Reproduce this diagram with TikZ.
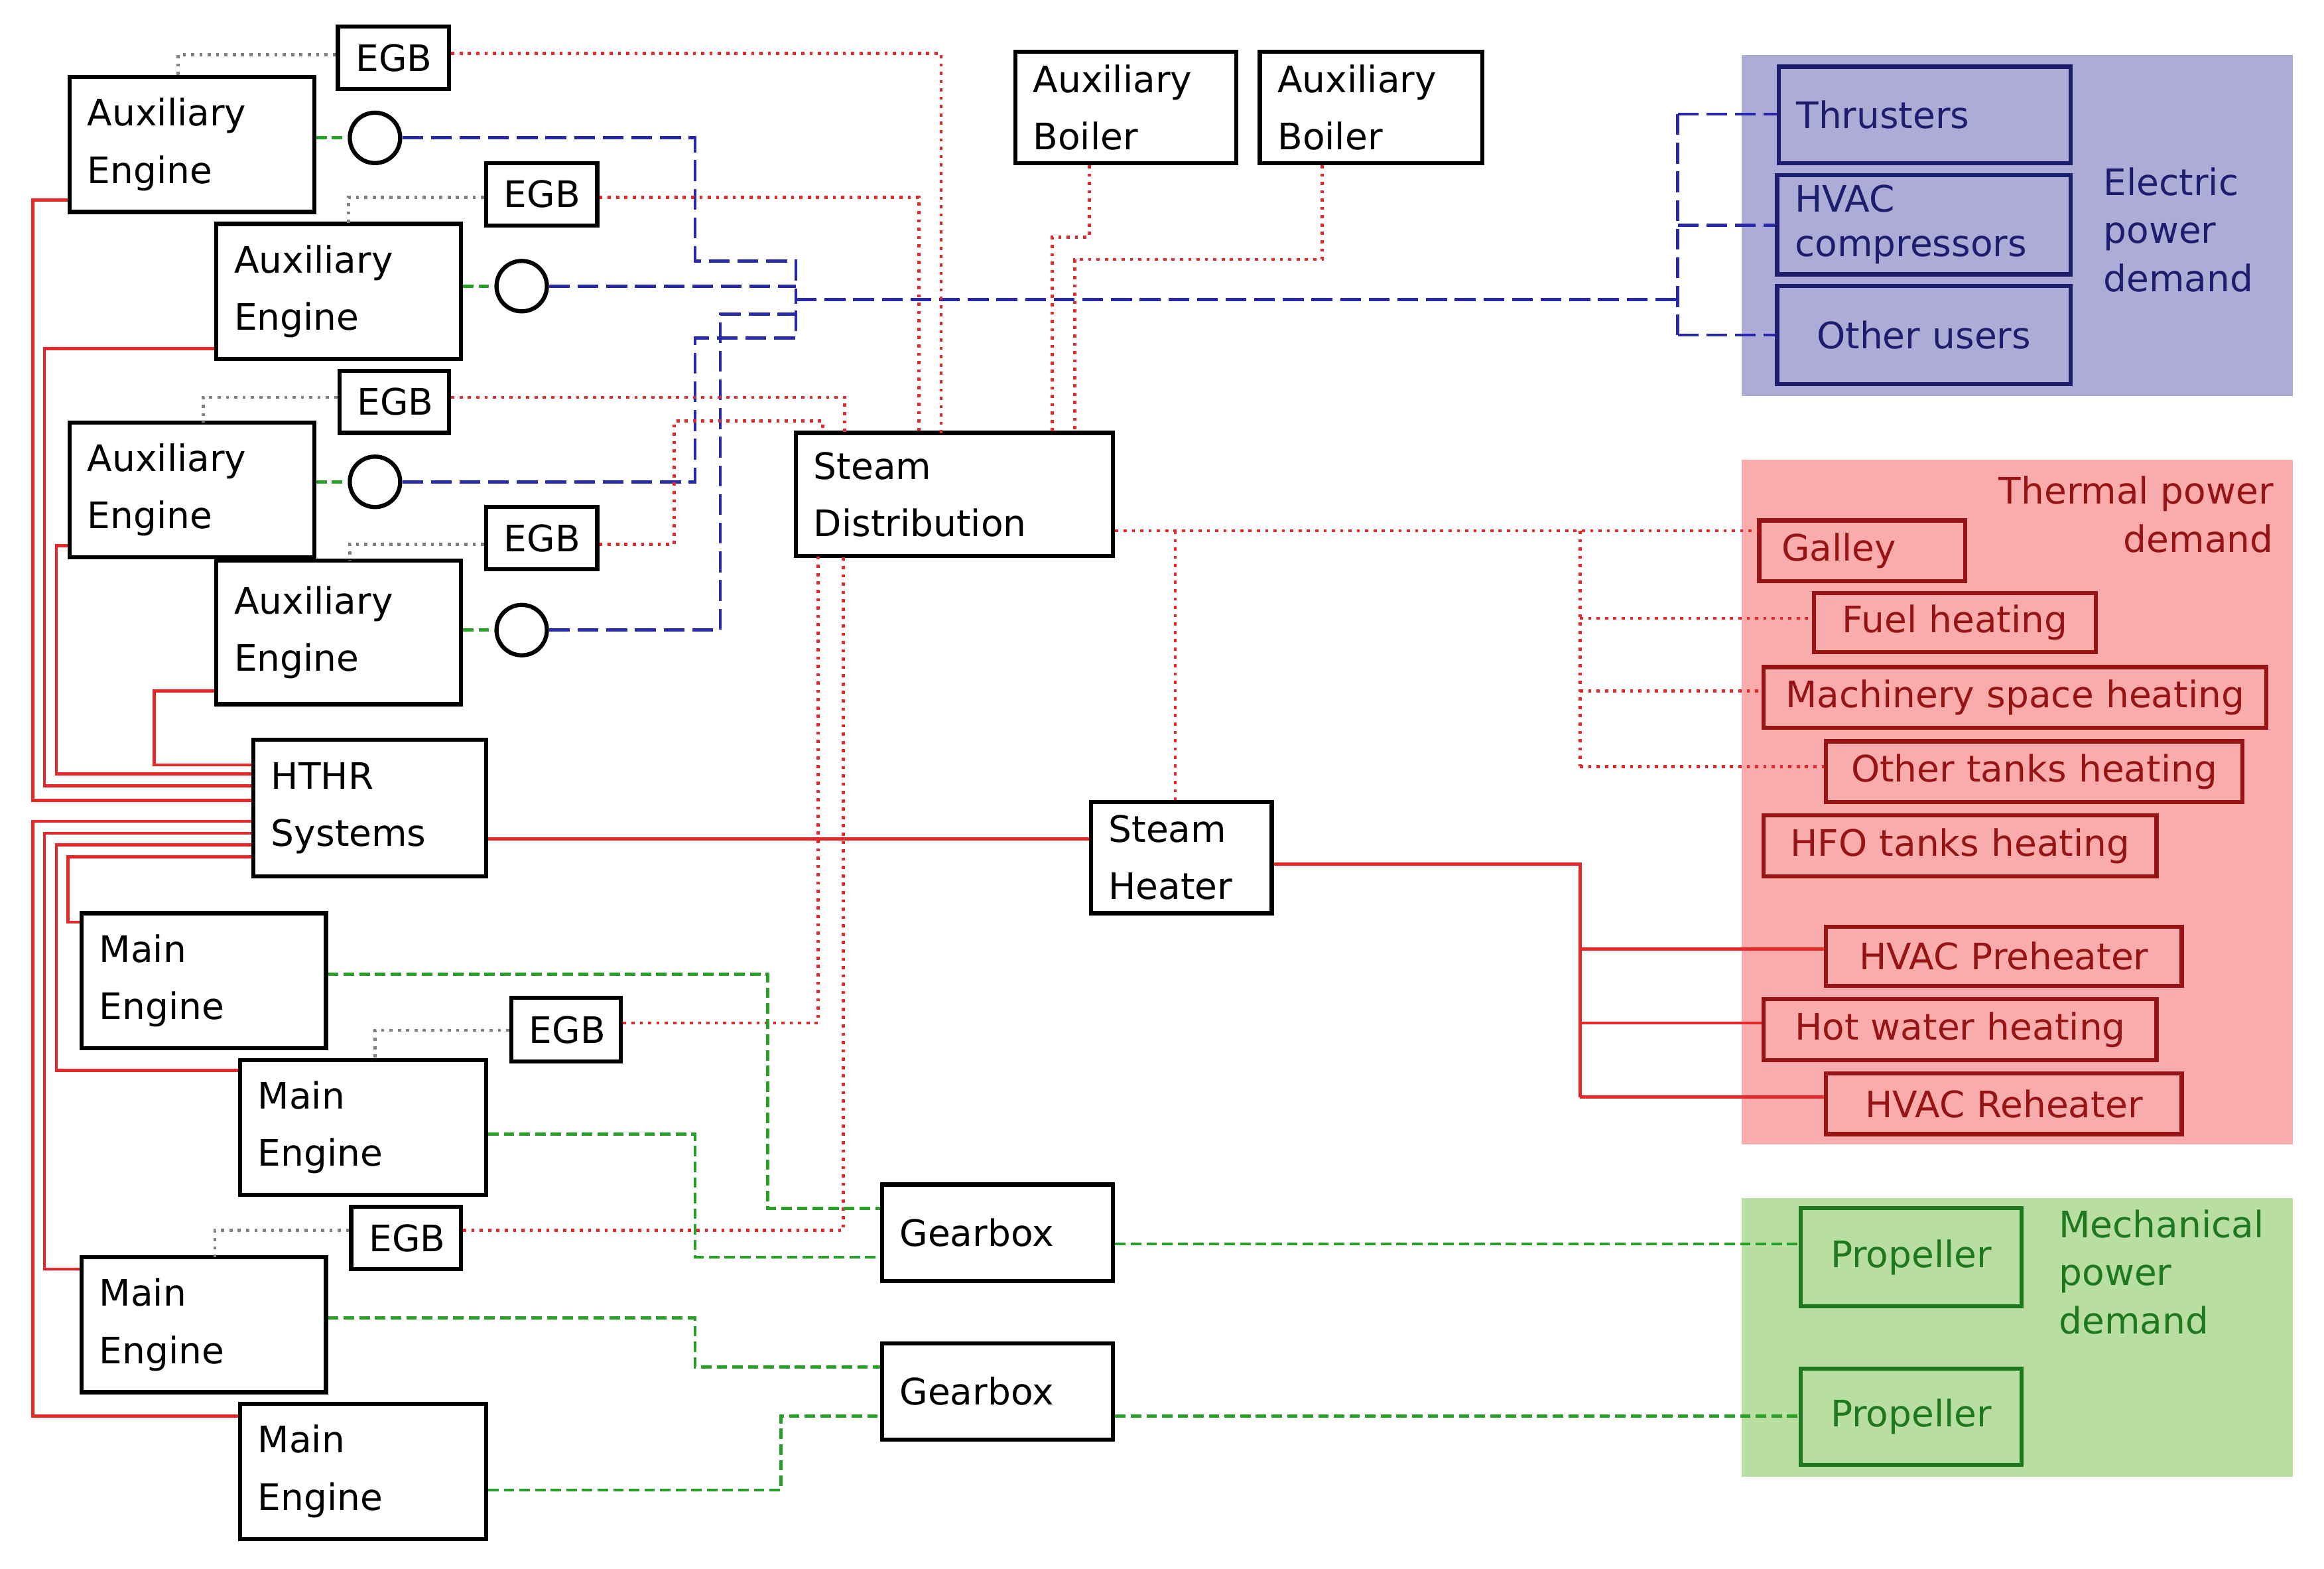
\documentclass[tikz,border=0pt]{standalone}
\usepackage{fontspec}
\setmainfont{DejaVu Sans}
\begin{document}
\definecolor{bfill}{RGB}{172,172,214}
\definecolor{bdark}{RGB}{30,30,110}
\definecolor{bline}{RGB}{40,40,170}
\definecolor{rfill}{RGB}{250,172,172}
\definecolor{rdark}{RGB}{150,20,20}
\definecolor{rline}{RGB}{230,40,40}
\definecolor{gfill}{RGB}{184,222,162}
\definecolor{gdark}{RGB}{30,120,30}
\definecolor{gline}{RGB}{40,160,40}
\begin{tikzpicture}[x=0.02cm,y=-0.02cm,
  box/.style={draw,line width=1.6pt,inner ysep=2pt,inner xsep=0.24cm,align=left,font=\fontsize{14}{22}\selectfont},
  ele/.style={dashed,dash pattern=on 8pt off 3pt,bline,line width=1.2pt},
  gen/.style={dash pattern=on 4pt off 2pt,gline,line width=1.2pt},
  the/.style={dotted,rline,line width=1.2pt},
  sol/.style={rline,line width=1.2pt},
  gry/.style={dotted,gray,line width=1.2pt},
  circ/.style={draw,circle,line width=1.6pt,minimum size=0.68cm,inner sep=0pt}]
\useasboundingbox (0,0) rectangle (1568,1058);
\newcommand\bx[7][]{\node[box,#1,minimum width={(#4-#2)*0.02cm},minimum height={(#5-#3)*0.02cm},text width={(#4-#2)*0.02cm-0.48cm}] (#7) at ({(#2+#4)/2},{(#3+#5)/2}) {#6};}
% regions
\fill[bfill] (1175,37) rectangle (1547,267);
\fill[rfill] (1175,310) rectangle (1547,772);
\fill[gfill] (1175,808) rectangle (1547,996);
\node[align=left,anchor=west,font=\fontsize{14}{18.5}\selectfont,bdark] (el) at (1413,155) {Electric\\power\\demand};
\node[align=right,anchor=north east,font=\fontsize{14}{18.5}\selectfont,rdark] (tl) at (1540,315) {Thermal power\\demand};
\node[align=left,anchor=west,font=\fontsize{14}{18.5}\selectfont,gdark] (ml) at (1383,858) {Mechanical\\power\\demand};
% boxes
\bx{47}{52}{212}{143}{Auxiliary\\Engine}{ae1}
\bx{146}{151}{311}{242}{Auxiliary\\Engine}{ae2}
\bx{47}{285}{212}{376}{Auxiliary\\Engine}{ae3}
\bx{146}{378}{311}{475}{Auxiliary\\Engine}{ae4}
\bx[inner xsep=0pt,align=center]{228}{18}{303}{60}{EGB}{egb1}
\bx[inner xsep=0pt,align=center]{328}{110}{403}{152}{EGB}{egb2}
\bx[inner xsep=0pt,align=center]{229}{250}{303}{292}{EGB}{egb3}
\bx[inner xsep=0pt,align=center]{328}{342}{403}{384}{EGB}{egb4}
\bx[inner xsep=0pt,align=center]{345}{673}{419}{716}{EGB}{egb5}
\bx[inner xsep=0pt,align=center]{237}{814}{311}{856}{EGB}{egb6}
\bx{171}{499}{328}{591}{HTHR\\Systems}{hthr}
\bx{55}{616}{220}{707}{Main\\Engine}{me1}
\bx{162}{715}{328}{806}{Main\\Engine}{me2}
\bx{55}{848}{220}{939}{Main\\Engine}{me3}
\bx{162}{947}{328}{1038}{Main\\Engine}{me4}
\bx{595}{799}{751}{864}{Gearbox}{gb1}
\bx{595}{906}{751}{971}{Gearbox}{gb2}
\bx{685}{35}{834}{110}{Auxiliary\\Boiler}{ab1}
\bx{850}{35}{1000}{110}{Auxiliary\\Boiler}{ab2}
\bx{537}{292}{751}{375}{Steam\\Distribution}{sd}
\bx[inner xsep=0.1cm,text width=2.04cm]{736}{541}{858}{616}{Steam\\Heater}{sh}
\bx[draw=bdark,text=bdark]{1200}{45}{1397}{110}{Thrusters}{thr}
\bx[draw=bdark,text=bdark,font=\fontsize{14}{17}\selectfont]{1199}{118}{1397}{185}{HVAC\\compressors}{hvc}
\bx[draw=bdark,text=bdark,align=center]{1199}{193}{1397}{259}{Other users}{ou}
\bx[draw=rdark,text=rdark,inner xsep=0.3cm]{1190}{351}{1323}{392}{Galley}{gal}
\bx[draw=rdark,text=rdark,align=center,inner xsep=0pt]{1224}{400}{1414}{440}{Fuel heating}{fh}
\bx[draw=rdark,text=rdark,align=center,inner xsep=0pt]{1190}{450}{1529}{491}{Machinery space heating}{msh}
\bx[draw=rdark,text=rdark,align=center,inner xsep=0pt]{1232}{500}{1513}{541}{Other tanks heating}{oth}
\bx[draw=rdark,text=rdark,align=center,inner xsep=0pt]{1190}{550}{1455}{591}{HFO tanks heating}{hfo}
\bx[draw=rdark,text=rdark,align=center,inner xsep=0pt]{1232}{625}{1472}{665}{HVAC Preheater}{hp}
\bx[draw=rdark,text=rdark,align=center,inner xsep=0pt]{1190}{674}{1455}{715}{Hot water heating}{hw}
\bx[draw=rdark,text=rdark,align=center,inner xsep=0pt]{1232}{724}{1472}{765}{HVAC Reheater}{hr}
\bx[draw=gdark,text=gdark,align=center,inner xsep=0pt]{1215}{815}{1364}{881}{Propeller}{p1}
\bx[draw=gdark,text=gdark,align=center,inner xsep=0pt]{1215}{923}{1364}{988}{Propeller}{p2}
% circles
\node[circ] (c1) at (253,93) {};
\node[circ] (c2) at (352,193) {};
\node[circ] (c3) at (253,325) {};
\node[circ] (c4) at (352,425) {};
% generator links
\draw[gen] (ae1.east|-c1) -- (c1);
\draw[gen] (ae2.east|-c2) -- (c2);
\draw[gen] (ae3.east|-c3) -- (c3);
\draw[gen] (ae4.east|-c4) -- (c4);
% electric
\coordinate (bus) at (537,202);
\coordinate (eb) at (1132,202);
\draw[ele] (c1) -- (469,93) -- (469,176) -- (537,176) -- (bus);
\draw[ele] (c2) -- (537,193);
\draw[ele] (c3) -- (469,325) -- (469,228) -- (537,228) -- (bus);
\draw[ele] (c4) -- (486,425) -- (486,212) -- (537,212) -- (bus);
\draw[ele] (bus) -- (eb);
\draw[ele] (1132,77) -- (1132,226);
\draw[ele] (1132,77) -- (thr.west|-1132,77);
\draw[ele] (1132,152) -- (hvc.west|-1132,152);
\draw[ele] (1132,226) -- (ou.west|-1132,226);
% gray dotted
\draw[gry] (egb1.west|-0,37) -- (120,37) -- (120,52);
\draw[gry] (egb2.west|-0,133) -- (235,133) -- (235,151);
\draw[gry] (egb3.west|-0,268) -- (137,268) -- (137,285);
\draw[gry] (egb4.west|-0,367) -- (236,367) -- (236,378);
\draw[gry] (egb5.west|-0,695) -- (253,695) -- (253,715);
\draw[gry] (egb6.west|-0,830) -- (145,830) -- (145,848);
% thermal dotted
\draw[the] (egb1.east|-0,36) -- (635,36) -- (635,292);
\draw[the] (egb2.east|-0,133) -- (620,133) -- (620,292);
\draw[the] (egb3.east|-0,268) -- (570,268) -- (570,292);
\draw[the] (egb4.east|-0,367) -- (455,367) -- (455,284) -- (555,284) -- (555,292);
\draw[the] (egb5.east|-0,690) -- (552,690) -- (552,375);
\draw[the] (egb6.east|-0,830) -- (569,830) -- (569,375);
\draw[the] (ab1.south-|735,0) -- (735,160) -- (710,160) -- (710,292);
\draw[the] (ab2.south-|892,0) -- (892,175) -- (725,175) -- (725,292);
\draw[the] (sd.east|-0,358) -- (gal.west|-0,358);
\draw[the] (793,358) -- (sh.north-|793,0);
\draw[the] (1066,358) -- (1066,517);
\draw[the] (1066,417) -- (fh.west|-0,417);
\draw[the] (1066,466) -- (msh.west|-0,466);
\draw[the] (1066,517) -- (oth.west|-0,517);
% solid red
\draw[sol] (hthr.east|-0,566) -- (sh.west|-0,566);
\draw[sol] (sh.east|-0,583) -- (1066,583) -- (1066,740);
\draw[sol] (1066,640) -- (hp.west|-0,640);
\draw[sol] (1066,690) -- (hw.west|-0,690);
\draw[sol] (1066,740) -- (hr.west|-0,740);
\draw[sol] (ae1.west|-0,135) -- (22,135) -- (22,540) -- (hthr.west|-0,540);
\draw[sol] (ae2.west|-0,235) -- (30,235) -- (30,530) -- (hthr.west|-0,530);
\draw[sol] (ae3.west|-0,368) -- (38,368) -- (38,522) -- (hthr.west|-0,522);
\draw[sol] (ae4.west|-0,466) -- (104,466) -- (104,516) -- (hthr.west|-0,516);
\draw[sol] (me1.west|-0,622) -- (46,622) -- (46,578) -- (hthr.west|-0,578);
\draw[sol] (me2.west|-0,722) -- (38,722) -- (38,570) -- (hthr.west|-0,570);
\draw[sol] (me3.west|-0,856) -- (30,856) -- (30,562) -- (hthr.west|-0,562);
\draw[sol] (me4.west|-0,955) -- (22,955) -- (22,554) -- (hthr.west|-0,554);
% mechanical
\draw[gen] (me1.east|-0,657) -- (518,657) -- (518,815) -- (gb1.west|-0,815);
\draw[gen] (me2.east|-0,765) -- (469,765) -- (469,848) -- (gb1.west|-0,848);
\draw[gen] (me3.east|-0,889) -- (469,889) -- (469,922) -- (gb2.west|-0,922);
\draw[gen] (me4.east|-0,1005) -- (527,1005) -- (527,955) -- (gb2.west|-0,955);
\draw[gen] (gb1.east|-0,839) -- (p1.west|-0,839);
\draw[gen] (gb2.east|-0,955) -- (p2.west|-0,955);
\end{tikzpicture}
\end{document}
